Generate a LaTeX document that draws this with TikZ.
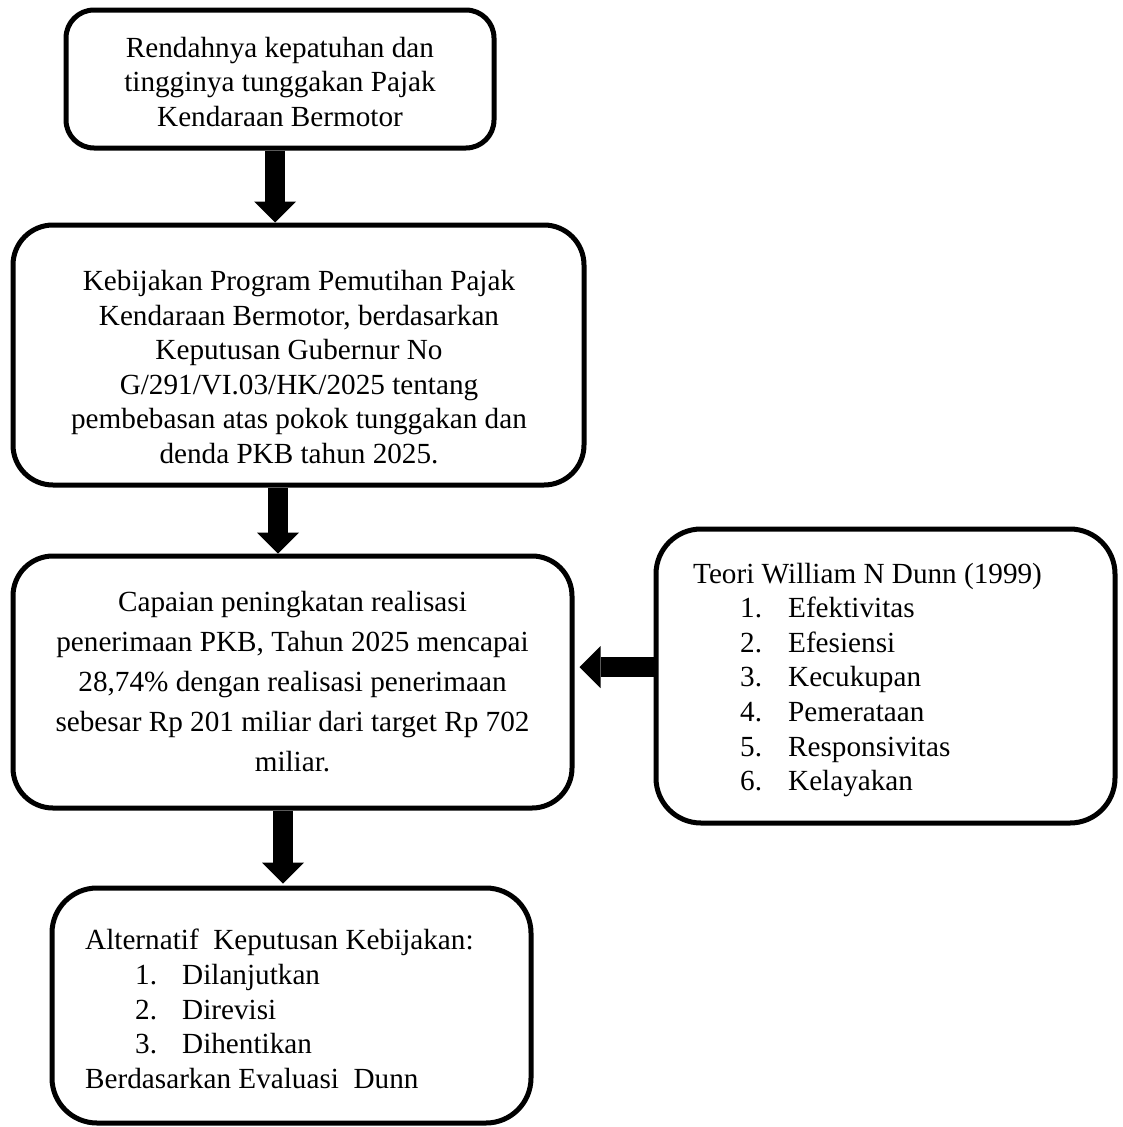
\documentclass[tikz,border=0pt]{standalone}
\usepackage{fontspec}
\setmainfont{Liberation Serif}
\usetikzlibrary{arrows.meta}
\begin{document}
\begin{tikzpicture}[x=1pt,y=-1pt,
  box/.style={draw, line width=5pt, inner sep=0pt},
  txt/.style={inner sep=0pt, font=\fontsize{29.2}{34.6}\selectfont},
  bigarrow/.style={line width=20pt, -{Triangle[width=42pt,length=21pt,line width=0pt]}}]
\useasboundingbox (0,0) rectangle (1123,1127);
% boxes
\node[box, rounded corners=28pt, minimum width=428pt, minimum height=138pt] (b1) at (280,79) {};
\node[box, rounded corners=40pt, minimum width=571pt, minimum height=260pt] (b2) at (298.5,355) {};
\node[box, rounded corners=40pt, minimum width=559pt, minimum height=252pt] (b3) at (292.5,682) {};
\node[box, rounded corners=45pt, minimum width=459pt, minimum height=294pt] (b4) at (885.5,676) {};
\node[box, rounded corners=45pt, minimum width=479pt, minimum height=235pt] (b5) at (291.5,1005.5) {};
% texts
\node[txt, align=center] (t1) at (280,82) {Rendahnya kepatuhan dan\\tingginya tunggakan Pajak\\Kendaraan Bermotor};
\node[txt, align=center] (t2) at (299,367) {Kebijakan Program Pemutihan Pajak\\Kendaraan Bermotor, berdasarkan\\Keputusan Gubernur No\\G/291/VI.03/HK/2025 tentang\\pembebasan atas pokok tunggakan dan\\denda PKB tahun 2025.};
\node[txt, align=center, font=\fontsize{29.2}{40}\selectfont] (t3) at (292.5,682) {Capaian peningkatan realisasi\\penerimaan PKB, Tahun 2025 mencapai\\28,74\% dengan realisasi penerimaan\\sebesar Rp 201 miliar dari target Rp 702\\miliar.};
\node[txt, align=left, anchor=west] (t4) at (693,680) {Teori William N Dunn (1999)\\
\hspace*{47pt}\makebox[48pt][l]{1.}Efektivitas\\
\hspace*{47pt}\makebox[48pt][l]{2.}Efesiensi\\
\hspace*{47pt}\makebox[48pt][l]{3.}Kecukupan\\
\hspace*{47pt}\makebox[48pt][l]{4.}Pemerataan\\
\hspace*{47pt}\makebox[48pt][l]{5.}Responsivitas\\
\hspace*{47pt}\makebox[48pt][l]{6.}Kelayakan};
\node[txt, align=left, anchor=west] (t5) at (85,1009) {Alternatif\ \ Keputusan Kebijakan:\\
\hspace*{50pt}\makebox[47pt][l]{1.}Dilanjutkan\\
\hspace*{50pt}\makebox[47pt][l]{2.}Direvisi\\
\hspace*{50pt}\makebox[47pt][l]{3.}Dihentikan\\
Berdasarkan Evaluasi\ \ Dunn};
% arrows
\coordinate (a1) at (275,0);
\coordinate (a2) at (278,0);
\coordinate (a4) at (283,0);
\coordinate (a3) at (0,667);
\draw[bigarrow] (b1.south -| a1) -- (b2.north -| a1);
\draw[bigarrow] (b2.south -| a2) -- (b3.north -| a2);
\draw[bigarrow, shorten >=2pt] (b3.south -| a4) -- (b5.north -| a4);
\draw[bigarrow, shorten >=5pt] (b4.west |- a3) -- (b3.east |- a3);
\end{tikzpicture}
\end{document}
